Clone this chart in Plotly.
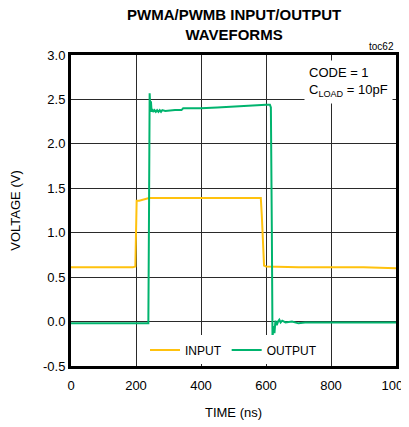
import plotly.graph_objects as go

# Input waveform (ns, V)
t_in = [0, 100, 190, 198, 200, 202, 210, 220, 230, 240, 300, 400, 500, 560, 584, 587, 591, 594, 600, 700, 800, 900, 1000]
v_in = [0.61, 0.61, 0.61, 0.62, 1.0, 1.36, 1.36, 1.37, 1.38, 1.39, 1.39, 1.39, 1.39, 1.39, 1.39, 1.2, 0.8, 0.63, 0.62, 0.61, 0.61, 0.61, 0.60]

# Output waveform (ns, V)
t_out = [0, 100, 200, 238, 240, 242, 244, 246, 248, 250, 253, 257, 261, 265, 269, 273, 277, 281, 290, 320,
         340, 345, 400, 450, 500, 540, 560, 600, 612, 615, 618, 620, 623, 626, 629, 633, 637, 641, 645, 650,
         660, 680, 700, 720, 800, 900, 1000]
v_out = [-0.02, -0.02, -0.02, -0.02, 1.2, 2.57, 2.40, 2.48, 2.36, 2.39, 2.36, 2.38, 2.36, 2.38, 2.36, 2.38, 2.36, 2.38, 2.37, 2.38,
         2.38, 2.40, 2.40, 2.41, 2.42, 2.43, 2.44, 2.44, 2.44, 2.41, 1.0, -0.18, -0.05, -0.13, 0.01, -0.04, 0.0, 0.02, -0.01, 0.01,
         -0.01, 0.0, -0.02, -0.01, -0.01, -0.01, -0.01]

x_ticks = [0, 200, 400, 600, 800, 1000]
y_ticks = [-0.5, 0.0, 0.5, 1.0, 1.5, 2.0, 2.5, 3.0]

fnt = "Liberation Sans, Arial, sans-serif"

fig = go.Figure()
fig.add_trace(go.Scatter(x=t_in, y=v_in, mode="lines", name="INPUT", line={'color': '#FFC20E', 'width': 2}))
fig.add_trace(go.Scatter(x=t_out, y=v_out, mode="lines", name="OUTPUT", line={'color': '#00B46E', 'width': 2}))

# X-Axis
fig.update_xaxes(title_text='TIME (ns)', range=[0, 1000], tickvals=x_ticks, ticktext=[str(v) for v in x_ticks],
                 showgrid=True, gridcolor='#2a2a2a', gridwidth=1.2, zeroline=False, automargin=False,
                 showline=True, linecolor='black', linewidth=3, mirror=True,
                 ticks='outside', ticklen=5, tickcolor='rgba(0,0,0,0)',
                 tickfont=dict(size=13, color='black'), title_font=dict(size=13, color='black'), title_standoff=17)

# Y-axis
fig.update_yaxes(title_text='VOLTAGE (V)', range=[-0.5, 3.0], tickvals=y_ticks, ticktext=["%.1f" % v for v in y_ticks],
                 showgrid=True, gridcolor='#2a2a2a', gridwidth=1.2, zeroline=False, automargin=False,
                 showline=True, linecolor='black', linewidth=3, mirror=True, ticks='',
                 tickfont=dict(size=13, color='black'), title_font=dict(size=13, color='black'), title_standoff=22)

# Layout (page has an 8px body offset, margins compensate)
fig.update_layout(width=409, height=427,
                  margin=dict(l=63, r=21, t=47, b=69),
                  template='plotly_white',
                  plot_bgcolor='white',
                  font=dict(family=fnt, color='black'),
                  showlegend=True,
                  legend=dict(orientation='h', x=0.5, xanchor='center', y=0.005, yanchor='bottom',
                              bgcolor='white', font=dict(size=12, color='black'), itemwidth=30,
                              tracegroupgap=0))

# Title
fig.add_annotation(text="<b>PWMA/PWMB INPUT/OUTPUT<br>WAVEFORMS</b>", xref='paper', yref='paper', x=0.5, y=1.0,
                   xanchor='center', yanchor='bottom', yshift=10, showarrow=False,
                   font=dict(size=15, color='black'))

fig.add_annotation(text="CODE = 1<br>C<sub>LOAD</sub> = 10pF", xref='paper', yref='paper', x=0.99, y=0.985,
                   xanchor='right', yanchor='top', align='left', showarrow=False, bgcolor='white',
                   font=dict(size=13, color='black'), borderpad=4)
fig.add_annotation(text="toc62", xref='paper', yref='paper', x=1.0, y=1.0, xanchor='right', yanchor='bottom',
                   showarrow=False, font=dict(size=10, color='black'), yshift=1)

fig.write_html("out.html")
